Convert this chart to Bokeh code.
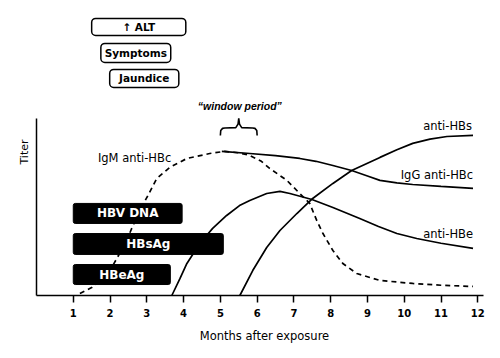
from bokeh.plotting import figure
from bokeh.models import Range1d, FixedTicker, LinearAxis, ColumnDataSource
from bokeh.core.properties import value
from bokeh.embed import file_html
from bokeh.resources import INLINE

FONT = "DejaVu Sans"

# ---- data (months after exposure, relative titer 0-100) ----
month_ticks = [1, 2, 3, 4, 5, 6, 7, 8, 9, 10, 11, 12]

igm_x = [1.18, 1.50, 1.80, 2.05, 2.26, 2.45, 2.59, 2.81, 3.03, 3.27, 3.62, 4.09, 4.71, 5.12,
         5.50, 5.80, 6.10, 6.34, 6.81, 7.16, 7.43, 7.62, 7.79, 8.06, 8.33, 8.71, 9.34,
         10.23, 11.0, 11.87]
igm_y = [1.1, 4.5, 9.6, 16.0, 23.7, 31.0, 37.9, 48.0, 56.5, 66.1, 72.3, 77.4, 80.2, 81.4,
         80.6, 79.1, 76.0, 71.8, 65.0, 57.6, 52.0, 42.4, 35.0, 25.4, 18.1, 12.4, 8.5,
         6.8, 5.8, 5.1]

igg_x = [5.04, 5.80, 6.50, 7.16, 7.60, 8.06, 8.57, 9.00, 9.34, 9.80, 10.23, 11.0, 11.87]
igg_y = [81.4, 80.2, 79.0, 77.4, 75.8, 73.4, 70.6, 67.5, 65.0, 63.6, 62.7, 61.6, 60.5]

hbe_x = [3.68, 3.90, 4.09, 4.44, 4.79, 5.17, 5.52, 5.80, 6.26, 6.62, 6.89, 7.49, 8.06,
         8.79, 9.30, 9.80, 10.34, 11.0, 11.87]
hbe_y = [0.0, 9.5, 18.1, 29.4, 37.9, 45.2, 50.8, 53.7, 57.6, 58.8, 57.6, 54.2, 49.7,
         43.5, 39.0, 35.0, 32.2, 29.5, 26.6]

hbs_x = [5.53, 5.88, 6.26, 6.62, 7.08, 7.51, 8.06, 8.57, 9.34, 9.80, 10.23, 10.70, 11.16, 11.87]
hbs_y = [0.0, 14.1, 27.1, 36.7, 46.3, 54.8, 63.3, 70.6, 78.0, 82.3, 85.9, 88.3, 89.8, 90.4]

bar_names = ["HBV DNA", "HBsAg", "HBeAg"]
bar_start = [1.0, 1.0, 1.0]
bar_end = [3.96, 5.08, 3.64]

box_names = ["\u2191 ALT", "Symptoms", "Jaundice"]
box_start = [1.50, 1.75, 1.99]
box_end = [4.06, 3.65, 3.87]

window_start = 5.0
window_end = 6.0

# ---- layout constants ----
bar_bottom = [40.7, 23.2, 6.2]
bar_top = [52.0, 35.0, 17.5]
box_bottom = [146.9, 131.6, 117.5]
box_top = [156.5, 142.4, 127.7]

p = figure(width=492, height=358, x_range=Range1d(0, 12.4), y_range=Range1d(0, 162.1),
           output_backend="svg", toolbar_location=None,
           x_axis_location=None, y_axis_location=None,
           min_border_left=36, min_border_right=0, min_border_top=8, min_border_bottom=63)
p.outline_line_color = None
p.xgrid.visible = False
p.ygrid.visible = False
p.background_fill_color = "white"
p.border_fill_color = "white"

xax = LinearAxis(ticker=FixedTicker(ticks=month_ticks), bounds=(0, 12.15),
                 axis_label="Months after exposure")
xax.axis_line_width = 1.5
xax.major_tick_line_width = 1.5
xax.major_tick_out = 7
xax.major_tick_in = 0
xax.minor_tick_line_color = None
xax.major_label_text_font = FONT
xax.major_label_text_font_style = "bold"
xax.major_label_text_font_size = "10px"
xax.major_label_text_color = "black"
xax.major_label_standoff = 6
xax.axis_label_text_font = FONT
xax.axis_label_text_font_style = "normal"
xax.axis_label_text_font_size = "11.5px"
xax.axis_label_text_color = "black"
xax.axis_label_standoff = 9
p.add_layout(xax, "below")

yax = LinearAxis(ticker=FixedTicker(ticks=[]), bounds=(0, 100), axis_label="Titer")
yax.axis_line_width = 1.5
yax.major_tick_out = 0
yax.major_tick_in = 0
yax.minor_tick_line_color = None
yax.major_label_standoff = 0
yax.axis_label_text_font = FONT
yax.axis_label_text_font_style = "normal"
yax.axis_label_text_font_size = "11px"
yax.axis_label_text_color = "black"
yax.axis_label_standoff = 6
p.add_layout(yax, "left")

# curves
p.line(igm_x, igm_y, line_color="black", line_width=1.7, line_dash="5 4")
p.line(igg_x, igg_y, line_color="black", line_width=1.7)
p.line(hbe_x, hbe_y, line_color="black", line_width=1.7)
p.line(hbs_x, hbs_y, line_color="black", line_width=1.7)

# black bars
bars = ColumnDataSource(dict(left=bar_start, right=bar_end, bottom=bar_bottom, top=bar_top,
                             name=bar_names,
                             cx=[(a + b) / 2 for a, b in zip(bar_start, bar_end)],
                             cy=[(a + b) / 2 for a, b in zip(bar_bottom, bar_top)]))
p.quad(left="left", right="right", bottom="bottom", top="top", source=bars,
       fill_color="black", line_color="black", border_radius=2)
p.text(x="cx", y="cy", text="name", source=bars, text_color="white",
       text_font=value(FONT), text_font_style="bold", text_font_size="12px",
       text_align="center", text_baseline="middle")

# symptom boxes
boxes = ColumnDataSource(dict(left=box_start, right=box_end, bottom=box_bottom, top=box_top,
                              name=box_names,
                              cx=[(a + b) / 2 for a, b in zip(box_start, box_end)],
                              cy=[(a + b) / 2 for a, b in zip(box_bottom, box_top)]))
p.quad(left="left", right="right", bottom="bottom", top="top", source=boxes,
       fill_color="white", line_color="black", line_width=1.5, border_radius=4)
p.text(x="cx", y="cy", text="name", source=boxes, text_color="black",
       text_font=value(FONT), text_font_style="bold", text_font_size="10.5px",
       text_align="center", text_baseline="middle")

# curve labels
lab = dict(text_font=value(FONT), text_font_size="11.5px", text_baseline="middle",
           text_color="black")
p.text(x=[1.67], y=[77.4], text=["IgM anti-HBc"], text_align="left", **lab)
p.text(x=[11.84], y=[95.5], text=["anti-HBs"], text_align="right", **lab)
p.text(x=[11.87], y=[67.8], text=["IgG anti-HBc"], text_align="right", **lab)
p.text(x=[11.87], y=[35.0], text=["anti-HBe"], text_align="right", **lab)

# window period brace
wm = (window_start + window_end) / 2
w = window_end - window_start
bx = [window_start, window_start + 0.01 * w, window_start + 0.06 * w, window_start + 0.12 * w,
      wm - 0.08 * w, wm - 0.02 * w, wm,
      wm + 0.02 * w, wm + 0.08 * w, window_end - 0.12 * w, window_end - 0.06 * w,
      window_end - 0.01 * w, window_end]
by = [90.4, 93.2, 94.4, 94.6, 94.8, 96.8, 100.0,
      96.8, 94.8, 94.6, 94.4, 93.2, 90.4]
p.line(bx, by, line_color="black", line_width=1.6)
p.text(x=[wm + 0.03], y=[107.3], text=["\u201cwindow period\u201d"], text_align="center",
       text_baseline="middle", text_font=value("Liberation Sans"),
       text_font_style="bold italic", text_font_size="10.5px", text_color="black")

open("out.html", "w").write(file_html(p, INLINE))
